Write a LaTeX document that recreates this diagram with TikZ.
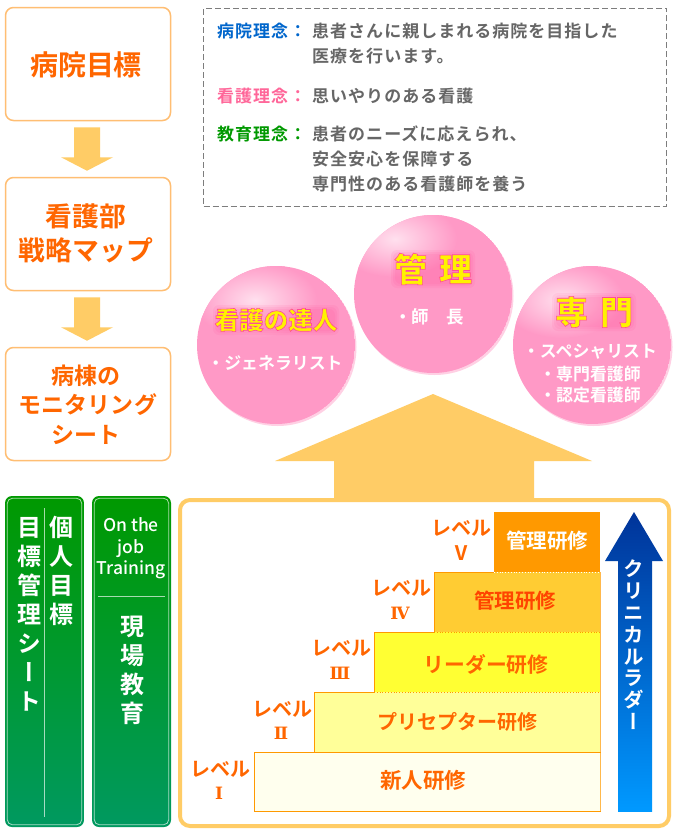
\documentclass[tikz,border=0pt]{standalone}
\usepackage{fontspec}
\usetikzlibrary{calc}
\setmainfont{Noto Sans CJK JP}[BoldFont={Noto Sans CJK JP Bold}]
\newfontfamily\jpvert{Noto Sans CJK JP}[BoldFont={Noto Sans CJK JP Bold},RawFeature={+vert}]
\newfontfamily\jpspaced{Noto Sans CJK JP}[BoldFont={Noto Sans CJK JP Bold},LetterSpace=6]
\newfontfamily\jpblack{Noto Sans CJK JP Black}
\newfontfamily\jpmed{Noto Sans CJK JP Medium}
\newfontfamily\numfont{DejaVu Serif}
\newcommand\fs[1]{\fontsize{#1}{#1}\selectfont}
\newcommand\glowtext[1]{\special{pdf:code q 2 Tr 0.6 w 1 0.3 0.6 RG}#1\special{pdf:code Q}}
\definecolor{boxline}{HTML}{FFBE73}
\definecolor{arrowor}{HTML}{FFCC66}
\definecolor{titleor}{HTML}{FF6600}
\definecolor{redor}{HTML}{FF4400}
\definecolor{stepline}{HTML}{FF9900}
\definecolor{ball}{HTML}{FF99C6}
\definecolor{ballrim}{HTML}{FFD0E4}
\definecolor{ballhi}{HTML}{FFE0EE}
\definecolor{grn1}{HTML}{009900}
\definecolor{grn2}{HTML}{009960}
\definecolor{graytxt}{HTML}{666666}
\definecolor{lblblue}{HTML}{0066CC}
\definecolor{lblpink}{HTML}{FF6699}
\definecolor{glowpink}{HTML}{FF3388}
\definecolor{lad1}{HTML}{003399}
\definecolor{lad2}{HTML}{0044AA}
\definecolor{lad3}{HTML}{0099FF}
\tikzset{
  titlebox/.style={draw=boxline,line width=1.5pt,fill=white,rounded corners=8pt,minimum width=165pt,minimum height=113pt,inner sep=0pt},
  titletxt/.style={text=titleor,font=\bfseries,align=center,inner sep=0pt},
  greenbox/.style={rounded corners=7pt,top color=grn1,bottom color=grn2,minimum width=79pt,minimum height=331pt,inner sep=0pt},
  innerline/.style={draw=white,draw opacity=.65,line width=.8pt},
  vtxt/.style={text=white,font=\bfseries\jpvert\fs{24},align=center,inner sep=0pt,anchor=north},
  steptxt/.style={font=\bfseries\fs{20.5},inner sep=0pt},
  lvltxt/.style={text=titleor,font=\bfseries\fs{20},inner sep=0pt,align=center},
  numtxt/.style={text=titleor,font=\bfseries\numfont\fs{17},inner sep=0pt,align=center},
  philo/.style={font=\bfseries\jpspaced\fs{17},inner sep=0pt,anchor=west},
  body/.style={philo,text=graytxt},
  balltxt/.style={text=white,font=\bfseries\fs{16.9},inner sep=0pt,align=center},
  glowtxt/.style={text=yellow,font=\jpblack,inner sep=0pt},
}
\newcommand\blockdown[2]{%
  \fill[arrowor] ($(#1.south)+(-14,6)$) -- ($(#1.south)+(12,6)$) -- ($(#1.south)+(12,36)$) -- ($(#1.south)+(25,36)$)
    -- ($(#2.north)+(-1,-6)$) -- ($(#1.south)+(-27,36)$) -- ($(#1.south)+(-14,36)$) -- cycle;}
% centre x, y, radius, highlight offset x, y
\newcommand\sphere[5]{%
  \node[circle,fill=ballrim,minimum size=#3*2pt,inner sep=0pt] at ($(#1,#2)+(1.5,2)$) {};
  \begin{scope}
    \clip (#1,#2) circle[radius=#3];
    \fill[ball] (#1,#2) circle[radius=#3];
    \shade[inner color=ballhi,outer color=ball] ($(#1,#2)+(#4,#5)$) ellipse[x radius=62,y radius=38];
  \end{scope}}
\newcommand\halo[4]{%
  \foreach \g in {0,2,4}{
    \fill[glowpink,opacity=.08,rounded corners=6pt] (#1-#3/2-\g,#2-#4/2-\g) rectangle (#1+#3/2+\g,#2+#4/2+\g);
  }}
\begin{document}
\begin{tikzpicture}[x=1pt,y=-1pt]
\useasboundingbox (0,0) rectangle (676,838);
\fill[white] (0,0) rectangle (676,838);
% left column
\node[titlebox] (b1) at (88,64) {};
\node[titlebox] (b2) at (88,234) {};
\node[titlebox] (b3) at (88,404) {};
\node[titletxt,font=\bfseries\fs{28}] (t1) at (86,65) {病院目標};
\node[titletxt,font=\bfseries\fs{26.8},align=center] (t2a) at (86,216) {看護部};
\node[titletxt,font=\bfseries\fs{26.8}] (t2b) at (86,250) {戦略マップ};
\node[titletxt,font=\bfseries\fs{23}] (t3a) at (86,376) {病棟の};
\node[titletxt,font=\bfseries\fs{23}] (t3b) at (88,405) {モニタリング};
\node[titletxt,font=\bfseries\fs{23}] (t3c) at (86,435) {シート};
\blockdown{b1}{b2}
\blockdown{b2}{b3}
% philosophy box
\node[draw=graytxt!85,dashed,line width=.8pt,minimum width=463pt,minimum height=198pt,inner sep=0pt,dash pattern=on 6pt off 3pt] (ph) at (435,107) {};
\node[philo,text=lblblue] (p1) at (217,31) {病院理念：};
\node[body] (p1a) at (312,31) {患者さんに親しまれる病院を目指した};
\node[body] (p1b) at (312,56) {医療を行います。};
\node[philo,text=lblpink] (p2) at (217,96) {看護理念：};
\node[body] (p2a) at (312,96) {思いやりのある看護};
\node[philo,text=grn1] (p3) at (217,134) {教育理念：};
\node[body] (p3a) at (312,134) {患者のニーズに応えられ、};
\node[body] (p3b) at (312,159) {安全安心を保障する};
\node[body] (p3c) at (312,184) {専門性のある看護師を養う};
% spheres
\sphere{276}{345}{79}{-21}{-45}
\sphere{592}{345}{79}{-30}{-45}
\sphere{433}{294}{79}{-38}{-55}
\halo{276}{320}{118}{22}
\halo{433}{269}{76}{30}
\halo{594}{312}{76}{30}
\node[glowtxt,font=\jpblack\fs{24.5}] (s1) at (276,320) {\glowtext{看護の達人}};
\node[balltxt] (s1a) at (275,363) {・ジェネラリスト};
\node[glowtxt,font=\jpblack\fs{33}] (s2) at (433,269) {\glowtext{管\hspace{12pt}理}};
\node[balltxt,font=\bfseries\fs{17.5}] (s2a) at (429,317) {・師　長};
\node[glowtxt,font=\jpblack\fs{33}] (s3) at (594,312) {\glowtext{専\hspace{12pt}門}};
\node[balltxt] (s3a) at (590,352) {・スペシャリスト};
\node[balltxt] (s3b) at (590,374) {・専門看護師};
\node[balltxt] (s3c) at (590,395) {・認定看護師};
% big arrow and frame
\fill[arrowor] (433,394) -- (592,461) -- (534,461) -- (534,500) -- (334,500) -- (334,461) -- (275,461) -- cycle;
\node[draw=arrowor,line width=4pt,fill=white,rounded corners=10pt,minimum width=489pt,minimum height=326pt,inner sep=0pt] (frame) at (424.5,663) {};
% steps
\definecolor{st1}{HTML}{FFFFEE}
\definecolor{st2}{HTML}{FFFF99}
\definecolor{st3}{HTML}{FFFF33}
\definecolor{st4}{HTML}{FFCC33}
\fill[st1] (254,752) rectangle (600,811);
\fill[st2] (314,692) rectangle (600,752);
\fill[st3] (374,632) rectangle (600,692);
\fill[st4] (434,572) rectangle (600,632);
\fill[stepline] (494,512) rectangle (600,572);
\draw[stepline,line width=.8pt] (254,752) rectangle (600,811);
\draw[stepline,line width=.8pt] (254,752) -- (314,752) -- (314,692) -- (374,692) -- (374,632) -- (434,632) -- (434,572) -- (494,572);
\draw[stepline!70!white,line width=.8pt] (600,572) -- (600,811);
\draw[white,line width=.8pt,dotted] (494,572) -- (600,572);
\draw[stepline,line width=.8pt,dotted] (434,632) -- (600,632);
\draw[stepline,line width=.8pt,dotted] (374,692) -- (600,692);
\draw[stepline,line width=.8pt,dotted] (314,752) -- (600,752);
\node[steptxt,text=white] (st5) at (547,541) {管理研修};
\node[steptxt,text=redor] (st4n) at (515,601) {管理研修};
\node[steptxt,text=titleor,font=\bfseries\fs{20.8}] (st3n) at (486,664) {リーダー研修};
\node[steptxt,text=titleor,font=\bfseries\fs{20}] (st2n) at (457,722) {プリセプター研修};
\node[steptxt,text=titleor,font=\bfseries\fs{21.5}] (st1n) at (423,780) {新人研修};
\node[lvltxt] (l1a) at (220,769.5) {レベル};
\node[numtxt] (l1b) at (219,793) {Ⅰ};
\node[lvltxt] (l2a) at (282,709.5) {レベル};
\node[numtxt] (l2b) at (281,733) {Ⅱ};
\node[lvltxt] (l3a) at (341,648.5) {レベル};
\node[numtxt] (l3b) at (340,673) {Ⅲ};
\node[lvltxt] (l4a) at (401,588.5) {レベル};
\node[numtxt] (l4b) at (400,613) {Ⅳ};
\node[lvltxt] (l5a) at (461,528.5) {レベル};
\node[lvltxt] (l5b) at (461,553) {Ⅴ};
% ladder arrow
\shade[top color=lad1,bottom color=lad2] (634,512) -- (663,561) -- (605,561) -- cycle;
\shade[top color=lad2,bottom color=lad3] (618,561) rectangle (652,811);
\node[text=white,font=\bfseries\jpvert\fs{20.5},inner sep=0pt,align=center,anchor=north] (cl) at (634,560) {ク\\[1.3pt]リ\\[1.3pt]ニ\\[1.3pt]カ\\[1.3pt]ル\\[1.3pt]ラ\\[1.3pt]ダ\\[1.3pt]ー};
% green panels
\node[greenbox] (g1) at (44.5,661.5) {};
\node[greenbox] (g2) at (131.5,661.5) {};
\draw[innerline,rounded corners=5pt] ($(g1.north west)+(2.5,2.5)$) rectangle ($(g1.south east)+(-2.5,-2.5)$);
\draw[innerline,rounded corners=5pt] ($(g2.north west)+(2.5,2.5)$) rectangle ($(g2.south east)+(-2.5,-2.5)$);
\draw[innerline] (44.5,508) -- (44.5,817);
\draw[innerline] (98,596.5) -- (165,596.5);
\node[vtxt] (v1) at (29,517) {目\\[5pt]標\\[5pt]管\\[5pt]理\\[5pt]シ\\[5pt]ー\\[5pt]ト};
\node[vtxt] (v2) at (61,516) {個\\[5pt]人\\[5pt]目\\[5pt]標};
\node[vtxt] (v3) at (132,615.5) {現\\[5pt]場\\[5pt]教\\[5pt]育};
\node[text=white,font=\jpmed\fs{17.5},inner sep=0pt] (o1) at (131,525) {On the};
\node[text=white,font=\jpmed\fs{17.5},inner sep=0pt] (o2) at (131,549) {job};
\node[text=white,font=\jpmed\fs{17.5},inner sep=0pt] (o3) at (131,570) {Training};
\end{tikzpicture}
\end{document}
